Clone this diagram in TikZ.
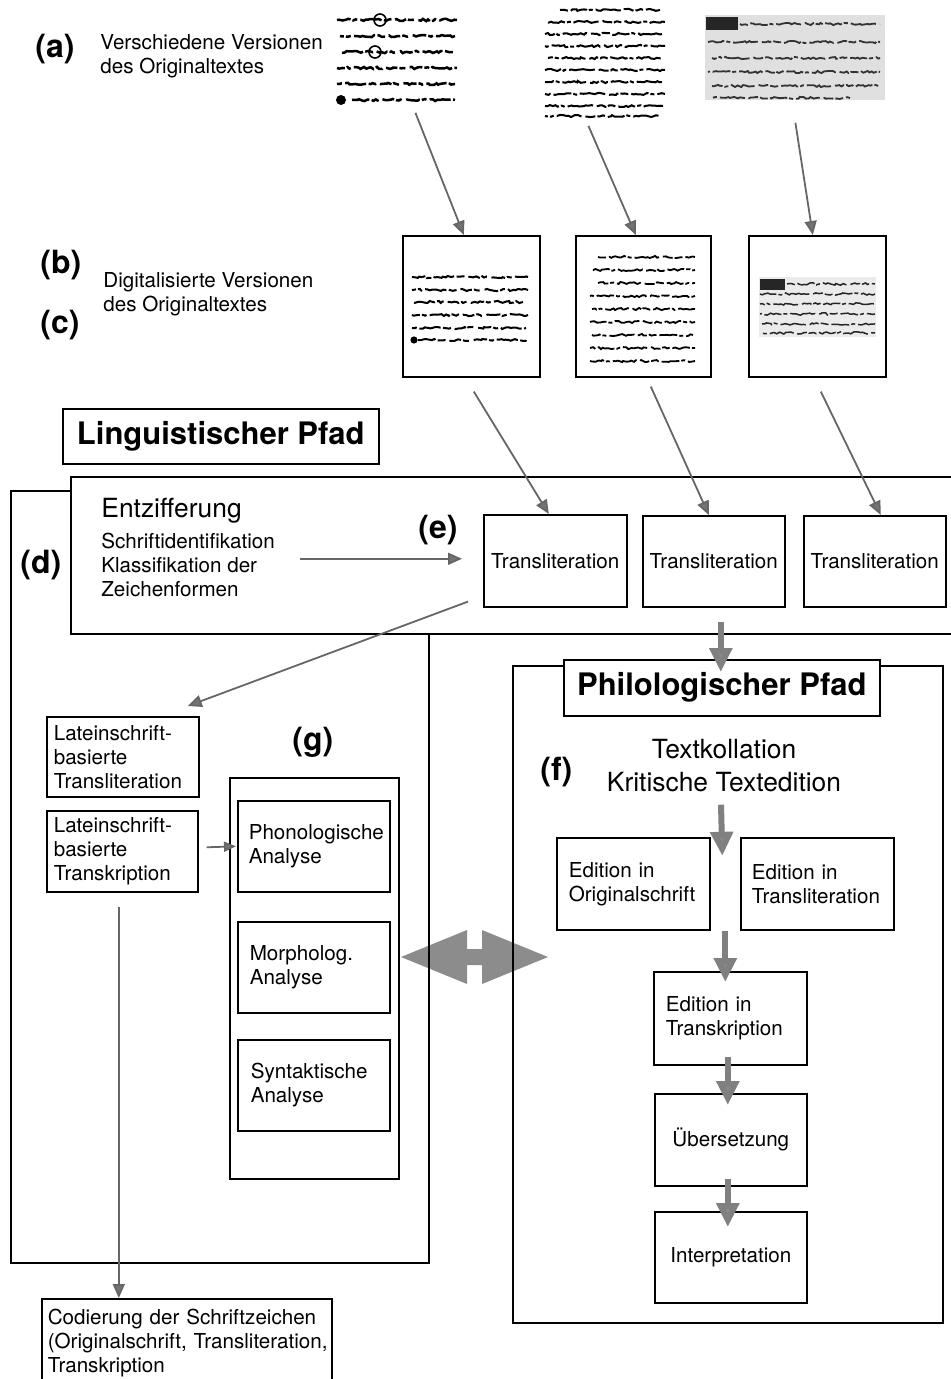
\documentclass[tikz,border=0pt]{standalone}
\usepackage{fontspec}
\setmainfont{TeX Gyre Heros}
\usetikzlibrary{arrows.meta,calc,decorations.pathmorphing}
\newcommand\fs{\fontsize{10.3}{12}\selectfont}
\newcommand\flab{\fontsize{16}{18}\selectfont\bfseries}
\newcommand\fhead{\fontsize{15.5}{18}\selectfont\bfseries}
\newcommand\fmid{\fontsize{13.2}{16.5}\selectfont}
\begin{document}
\pgfmathsetseed{7}
\begin{tikzpicture}[x=0.5pt,y=-0.5pt,
  bx/.style={draw,line width=0.8pt,anchor=north west,inner sep=0pt,font=\fs},
  lbl/.style={font=\flab,anchor=base west,inner sep=0pt},
  txt/.style={font=\fs,anchor=west,inner sep=0pt,align=left},
  thinar/.style={draw=black!60,line width=0.9pt,-{Triangle[length=7pt,width=6pt,fill=black!55]}},
  thickar/.style={draw=black!50,line width=3pt,-{Triangle[length=12pt,width=11pt,fill=black!45]}},
  ink/.style={line width=1.25pt,decorate,decoration={random steps,segment length=1.3pt,amplitude=0.55pt}},
  inkA/.style={dash pattern=on 7pt off 1pt on 2.5pt off 1.6pt on 11pt off 1.2pt on 4pt off 2pt on 6pt off 1pt on 3pt off 2.5pt},
  inkB/.style={dash pattern=on 4pt off 1.5pt on 9pt off 1pt on 2pt off 1.5pt on 13pt off 2pt on 5pt off 1pt},
]
\useasboundingbox (0,0) rectangle (951,1379);

% ---------- manuscripts (top row) ----------
\node[anchor=north west,minimum width=63.5pt,minimum height=46.5pt,inner sep=0pt] (ms1) at (333,12) {};
\node[anchor=north west,minimum width=64pt,minimum height=56.5pt,inner sep=0pt] (ms2) at (540,5) {};
\node[anchor=north west,minimum width=90pt,minimum height=42.5pt,inner sep=0pt] (ms3) at (705,15) {};

\foreach \yy/\xa/\xb/\ph in {20/337/457/0pt,36/340/455/5pt,52/340/455/11pt,68/337/457/3pt,84/337/455/8pt,100/352/455/14pt}
  \draw[ink,inkA,dash phase=\ph] (\xa,\yy) -- (\xb,\yy);
\fill (341,100) circle (2.5pt);
\draw[line width=0.8pt] (380,20) circle (3pt) (375,52) circle (3pt);

\foreach \yy/\xa/\xb/\ph in {10/560/660/0pt,22/545/665/4pt,34/545/662/9pt,46/545/665/2pt,58/548/663/12pt,70/545/665/6pt,82/545/663/10pt,94/545/665/1pt,106/545/663/7pt,116/545/660/13pt}
  \draw[ink,inkB,line width=1pt,dash phase=\ph] (\xa,\yy) -- (\xb,\yy);

\fill[black!12] (705,15) rectangle (885,100);
\fill[black!85] (706,17) rectangle (738,30);
\foreach \yy/\xa/\xb/\ph in {24/740/880/0pt,42/708/880/6pt,58/712/880/12pt,72/708/880/3pt,86/712/880/9pt,98/712/850/15pt}
  \draw[ink,inkB,line width=0.9pt,black!80,dash phase=\ph] (\xa,\yy) -- (\xb,\yy);

% ---------- digitised frames ----------
\node[bx,minimum width=68.5pt,minimum height=70.5pt] (img1) at (402,235) {};
\node[bx,minimum width=67.5pt,minimum height=70.5pt] (img2) at (575,235) {};
\node[bx,minimum width=68.5pt,minimum height=70.5pt] (img3) at (748,235) {};

\foreach \yy/\xa/\xb/\ph in {277/412/528/0pt,290/412/528/5pt,302/412/526/11pt,315/412/528/3pt,328/412/526/8pt,340/418/526/14pt}
  \draw[ink,inkA,line width=1pt,dash phase=\ph] (\xa,\yy) -- (\xb,\yy);
\fill (414,340) circle (1.8pt);
\foreach \yy/\xa/\xb/\ph in {257/598/695/0pt,270/590/695/4pt,283/598/695/9pt,296/590/695/2pt,309/592/695/12pt,322/590/695/6pt,335/592/693/10pt,348/590/695/1pt,361/590/695/7pt}
  \draw[ink,inkB,line width=0.9pt,dash phase=\ph] (\xa,\yy) -- (\xb,\yy);
\fill[black!8] (759,277) rectangle (876,337);
\fill[black!85] (760,279) rectangle (785,290);
\foreach \yy/\xa/\xb/\ph in {284/787/875/0pt,294/760/875/6pt,304/760/875/12pt,314/760/875/3pt,324/762/875/9pt,333/762/875/15pt}
  \draw[ink,inkB,line width=0.75pt,black!85,dash phase=\ph] (\xa,\yy) -- (\xb,\yy);

% ---------- left labels ----------
\node[lbl] (la) at (35,58) {(a)};
\node[txt] (ta) at (100,56) {Verschiedene Versionen\\des Originaltextes};
\node[lbl] (lb) at (40,274) {(b)};
\node[lbl] (lc) at (40,334) {(c)};
\node[txt] (tb) at (103,294.5) {Digitalisierte Versionen\\des Originaltextes};

% ---------- double arrow (behind boxes) ----------
\fill[black!45] (401,957) -- (467,930) -- (467,949) -- (482,949) -- (482,930) -- (548,957)
  -- (482,984) -- (482,965) -- (467,965) -- (467,984) -- cycle;

% ---------- linguistic path ----------
\node[bx,minimum width=158pt,minimum height=27.5pt,font=\fhead] (ling) at (62,408) {Linguistischer Pfad};
\node[bx,minimum width=209pt,minimum height=386pt] (dbox) at (10,490) {};
\node[bx,fill=white,minimum width=460pt,minimum height=78.5pt] (entz) at (70,476) {};
\node[font=\fmid,anchor=base west,inner sep=0pt] (tentz) at (101,517) {Entzifferung};
\node[txt] (tschr) at (101,565) {Schriftidentifikation\\Klassifikation der\\Zeichenformen};
\node[lbl] (ld) at (20,573) {(d)};
\node[lbl] (le) at (418,538) {(e)};

\node[bx,minimum width=71.5pt,minimum height=46pt] (tl1) at (483,514) {Transliteration};
\node[bx,minimum width=71pt,minimum height=45.5pt] (tl2) at (642,515) {Transliteration};
\node[bx,minimum width=71pt,minimum height=45.5pt] (tl3) at (803,515) {Transliteration};

\node[bx,minimum width=76pt,minimum height=40pt,align=left,text width=69pt,inner xsep=3.5pt] (lat1) at (46,716) {Lateinschrift-\\basierte\\Transliteration};
\node[bx,minimum width=75.5pt,minimum height=40.5pt,align=left,text width=68.5pt,inner xsep=3.5pt] (lat2) at (46,810) {Lateinschrift-\\basierte\\Transkription};

\node[lbl] (lg) at (292,750) {(g)};
\node[bx,minimum width=84.5pt,minimum height=200.5pt] (gbox) at (229,777) {};
\node[bx,minimum width=76pt,minimum height=45.5pt,align=left,text width=65pt,inner xsep=5.5pt] (phon) at (237,800) {Phonologische\\Analyse};
\node[bx,minimum width=76pt,minimum height=45.5pt,align=left,text width=64pt,inner xsep=6pt] (morph) at (237,921) {Morpholog.\\Analyse};
\node[bx,minimum width=76pt,minimum height=45.5pt,align=left,text width=63pt,inner xsep=6.5pt] (synt) at (237,1039) {Syntaktische\\Analyse};

\node[bx,minimum width=145pt,minimum height=44pt,align=left,text width=139pt,inner xsep=3pt] (cod) at (41,1298) {Codierung der Schriftzeichen\\\mbox{(Originalschrift, Transliteration,}\\Transkription};

% ---------- philological path ----------
\node[bx,minimum width=215pt,minimum height=328.5pt] (pbox) at (512,665) {};
\node[bx,fill=white,minimum width=158pt,minimum height=28pt,font=\fhead] (phil) at (563,659) {Philologischer Pfad};
\node[lbl] (lf) at (540,780) {(f)};
\node[font=\fmid,align=center,inner sep=0pt] (ftext) at (724,766) {Textkollation\\Kritische Textedition};

\node[bx,minimum width=76.5pt,minimum height=46pt,align=left,text width=64.5pt,inner xsep=6pt] (edorig) at (556,837) {Edition in\\Originalschrift};
\node[bx,minimum width=76.5pt,minimum height=46pt,align=left,text width=65.5pt,inner xsep=5.5pt] (edtrl) at (740,837) {Edition in\\Transliteration};
\node[bx,minimum width=76.5pt,minimum height=46.5pt,align=left,text width=64.5pt,inner xsep=6pt] (edtrk) at (653,971) {Edition in\\Transkription};
\node[bx,minimum width=76pt,minimum height=46pt] (ueb) at (654,1093) {Übersetzung};
\node[bx,minimum width=76pt,minimum height=45.5pt] (interp) at (654,1211) {Interpretation};

% ---------- connectors ----------
\draw[thinar] ($(ms1.south)+(18.5,7)$) -- ($(img1.north)+(-7.5,0)$);
\draw[thinar] ($(ms2.south)+(-16,7)$) -- ($(img2.north)+(-7.5,0)$);
\draw[thinar] ($(ms3.south)+(0,22)$) -- ($(img3.north)+(-4.5,0)$);
\draw[thinar] ($(img1.south)+(2.5,14)$) -- ($(tl1.north)+(-6.5,0)$);
\draw[thinar] ($(img2.south)+(7.5,9)$) -- ($(tl2.north)+(-5,0)$);
\draw[thinar] ($(img3.south)+(3.5,14)$) -- ($(tl3.north)+(6,0)$);
\coordinate (cstart) at ($(tl1.west)+(-183,-2)$);
\draw[thinar] (cstart) -- ($(tl1.west)+(-21,-2)$);
\draw[thinar] ($(tl1.south west)+(-15,-6)$) -- ($(lat1.north)+(65,-10)$);
\draw[thinar,-{Triangle[length=6pt,width=5pt,fill=black!55]}] ($(lat2.east)+(8,-4)$) -- ($(phon.west)+(-1,0)$);
\draw[thinar] ($(lat2.south)+(-3.5,14)$) -- ($(cod.north)+(-68,0)$);

\draw[thickar] ($(tl2.south)+(7,14)$) -- ($(phil.north)+(-1,13)$);
\coordinate (mid) at ($(edorig.east)!0.5!(edtrl.west)$);
\draw[thickar] ($(ftext.south)+(-3,12)$) -- ($(mid)+(-3,-28)$);
\draw[thickar] ($(mid)+(0,47)$) -- ($(edtrk.north)+(-5,11)$);
\draw[thickar] ($(edtrk.south)+(-2.5,-9)$) -- ($(ueb.north)+(-3,12)$);
\draw[thickar] ($(ueb.south)+(-3,-8)$) -- ($(interp.north)+(-3,16)$);
\end{tikzpicture}
\end{document}
